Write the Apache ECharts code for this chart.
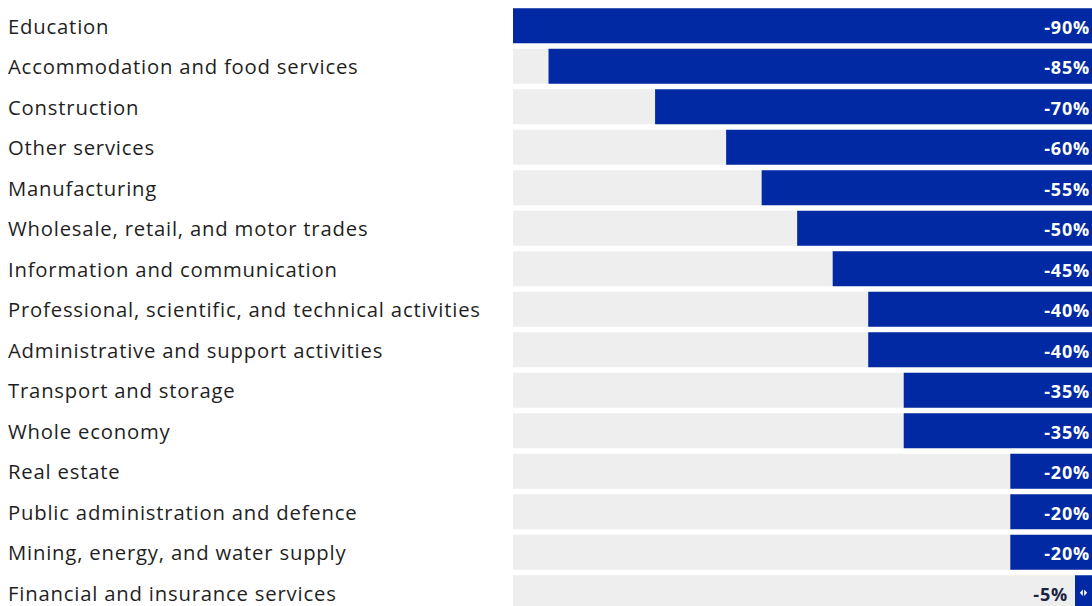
<!DOCTYPE html>
<html>
<head>
<meta charset="utf-8">
<script src="https://cdn.jsdelivr.net/npm/echarts@6/dist/echarts.min.js"></script>
<style>
  html, body { margin: 0; padding: 0; background: #ffffff; }
  #chart { width: 1092px; height: 606px; }
  #chart svg text { letter-spacing: 0.8px; }
</style>
</head>
<body>
<div id="chart"></div>
<script>
// Sectors, top to bottom
const categories = [
  'Education',
  'Accommodation and food services',
  'Construction',
  'Other services',
  'Manufacturing',
  'Wholesale, retail, and motor trades',
  'Information and communication',
  'Professional, scientific, and technical activities',
  'Administrative and support activities',
  'Transport and storage',
  'Whole economy',
  'Real estate',
  'Public administration and defence',
  'Mining, energy, and water supply',
  'Financial and insurance services'
];

// Change in each sector, per cent
const values = [-90, -85, -70, -60, -55, -50, -45, -40, -40, -35, -35, -20, -20, -20, -5];

// Visible stretch of the value scale
const axisMin = -90;
const axisMax = -8.5;

const BLUE = '#0029a3';
const GREY = '#eeeeee';
const LABEL_FONT = '"Open Sans", sans-serif';
const VALUE_FONT = '"Open Sans", sans-serif';

const chart = echarts.init(document.getElementById('chart'), null, { renderer: 'svg' });

function renderBar(params, api) {
  const idx = api.value(1);
  const v = api.value(0);
  const cs = params.coordSys;
  const band = api.size([0, 1])[1];
  const h = band * 0.864;
  const left = api.coord([axisMin, idx]);
  const start = api.coord([v, idx]);
  const zero = api.coord([0, idx]);
  const right = Math.min(zero[0], cs.x + cs.width);
  const cy = left[1];
  const y = cy - h / 2;
  const minW = 17;
  const text = v + '%';
  const children = [{
    type: 'rect',
    shape: { x: left[0], y: y, width: right - left[0], height: h },
    style: { fill: GREY }
  }];
  if (start[0] > right - minW) {
    // Bar too short to hold its label: stub with a marker, label outside
    const mx = right - minW / 2;
    children.push({
      type: 'rect',
      shape: { x: right - minW, y: y, width: minW, height: h },
      style: { fill: BLUE }
    });
    children.push({
      type: 'polygon',
      shape: { points: [[mx - 0.7, cy - 3.2], [mx - 0.7, cy + 3.2], [mx - 3.6, cy]] },
      style: { fill: '#ffffff' }
    });
    children.push({
      type: 'polygon',
      shape: { points: [[mx + 0.7, cy - 3.2], [mx + 0.7, cy + 3.2], [mx + 3.6, cy]] },
      style: { fill: '#ffffff' }
    });
    children.push({
      type: 'text',
      x: right - minW - 7, y: cy + 1,
      style: { text: text, fill: '#1b2342', fontSize: 18, fontWeight: 'bold', fontFamily: VALUE_FONT,
               align: 'right', verticalAlign: 'middle' }
    });
  } else {
    children.push({
      type: 'rect',
      shape: { x: start[0], y: y, width: right - start[0], height: h },
      style: { fill: BLUE }
    });
    children.push({
      type: 'text',
      x: right - 2, y: cy + 1,
      style: { text: text, fill: '#ffffff', fontSize: 18, fontWeight: 'bold', fontFamily: VALUE_FONT,
               align: 'right', verticalAlign: 'middle' }
    });
  }
  return { type: 'group', children: children };
}

chart.setOption({
  animation: false,
  backgroundColor: '#ffffff',
  grid: { left: 513, right: 0, top: 5.5, height: 607.5, containLabel: false, outerBoundsMode: 'none' },
  xAxis: {
    type: 'value', min: axisMin, max: axisMax, show: false
  },
  yAxis: {
    type: 'category',
    data: categories,
    inverse: true,
    axisLine: { show: false },
    axisTick: { show: false },
    splitLine: { show: false },
    axisLabel: {
      align: 'left',
      margin: 505,
      fontSize: 20.3,
      color: '#1f1f1f',
      fontFamily: LABEL_FONT,
      padding: [11, 0, 0, 0]
    }
  },
  series: [{
    type: 'custom',
    renderItem: renderBar,
    clip: false,
    encode: { x: 0, y: 1 },
    data: values.map((v, i) => [v, i])
  }]
});
</script>
</body>
</html>
